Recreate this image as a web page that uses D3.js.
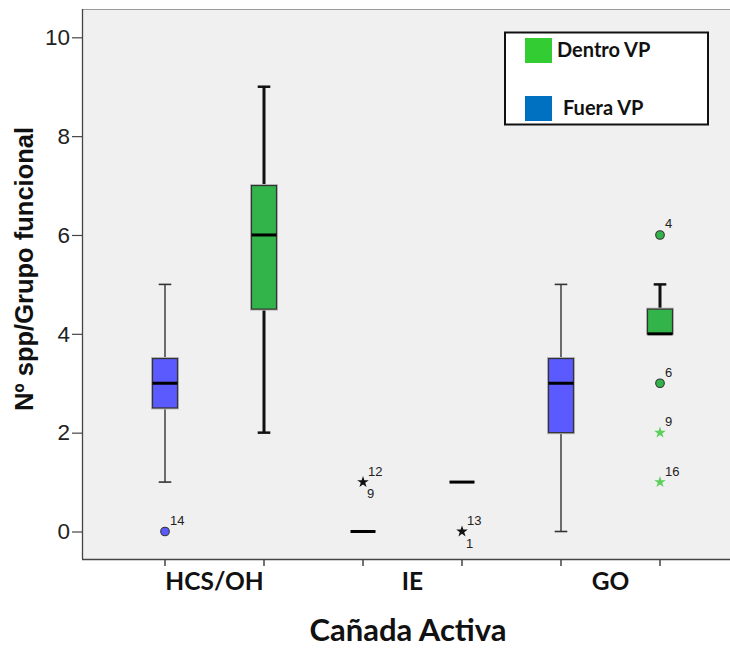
<!DOCTYPE html>
<html>
<head>
<meta charset="utf-8">
<script src="https://cdn.jsdelivr.net/npm/d3@7"></script>
<style>
  html, body { margin: 0; padding: 0; background: #ffffff; }
  svg { display: block; }
</style>
</head>
<body>
<svg id="chart" width="730" height="648"></svg>
<script>
// Categories along the x axis and the two series compared in each one
const categories = ["HCS/OH", "IE", "GO"];
const seriesNames = ["Fuera VP", "Dentro VP"];

// Box statistics, one value per category (lower whisker, Q1, median, Q3, upper whisker)
const fueraLow    = [1,   0, 0];
const fueraQ1     = [2.5, 0, 2];
const fueraMedian = [3,   0, 3];
const fueraQ3     = [3.5, 0, 3.5];
const fueraHigh   = [5,   0, 5];

const dentroLow    = [2,   1, 4];
const dentroQ1     = [4.5, 1, 4];
const dentroMedian = [6,   1, 4];
const dentroQ3     = [7,   1, 4.5];
const dentroHigh   = [9,   1, 5];

const yTicks = [0, 2, 4, 6, 8, 10];

// Outlying cases (circle = outlier, star = extreme), with their case numbers
const outCategory   = ["HCS/OH",   "IE",       "IE",        "GO",        "GO",        "GO",        "GO"];
const outSeries     = ["Fuera VP", "Fuera VP", "Dentro VP", "Dentro VP", "Dentro VP", "Dentro VP", "Dentro VP"];
const outValue      = [0,          1,          0,           6,           3,           2,           1];
const outKind       = ["circle",   "star",     "star",      "circle",    "circle",    "star",      "star"];
const outLabelAbove = ["14",       "12",       "13",        "4",         "6",         "9",         "16"];
const outLabelBelow = ["",         "9",        "1",         "",          "",          "",          ""];

// Styling
const boxFill   = { "Fuera VP": "#5a5aff", "Dentro VP": "#32b44a" };
const legendFill = { "Dentro VP": "#33cc33", "Fuera VP": "#0070c0" };
const whiskerStyle = {
  "Fuera VP":  { stroke: "#333333", width: 1.4 },
  "Dentro VP": { stroke: "#111111", width: 3 }
};

const svg = d3.select("#chart");

const plot = { left: 83, right: 731, top: 9, bottom: 559 };

const y = d3.scaleLinear().domain([0, 10]).range([531.5, 37.3]);
const x0 = d3.scaleBand().domain(categories).range([115.5, 709.5]).padding(0);
const x1 = d3.scaleBand().domain(seriesNames).range([0, x0.bandwidth()]).padding(0);
const cx = (c, s) => x0(c) + x1(s) + x1.bandwidth() / 2;

const boxW = 25;
const capW = 12.6;

// Plot background and frame
svg.append("rect")
  .attr("x", plot.left).attr("y", plot.top)
  .attr("width", plot.right - plot.left).attr("height", plot.bottom - plot.top)
  .attr("fill", "#f0f0f0");
svg.append("line")
  .attr("x1", plot.left).attr("x2", plot.right)
  .attr("y1", plot.top + 0.5).attr("y2", plot.top + 0.5)
  .attr("stroke", "#9a9a9a").attr("stroke-width", 1.2);
svg.append("line")
  .attr("x1", plot.left - 0.5).attr("x2", plot.left - 0.5)
  .attr("y1", plot.top).attr("y2", plot.bottom)
  .attr("stroke", "#444444").attr("stroke-width", 1.3);
svg.append("line")
  .attr("x1", plot.left - 1).attr("x2", plot.right)
  .attr("y1", plot.bottom + 0.5).attr("y2", plot.bottom + 0.5)
  .attr("stroke", "#444444").attr("stroke-width", 1.3);

// Y axis
const yAxis = svg.append("g")
  .attr("transform", `translate(${plot.left - 1},0)`)
  .call(d3.axisLeft(y).tickValues(yTicks).tickSize(10).tickPadding(2).tickFormat(d3.format("d")));
yAxis.select(".domain").remove();
yAxis.selectAll(".tick line").attr("stroke", "#444444").attr("stroke-width", 1.2);
yAxis.selectAll(".tick text")
  .attr("fill", "#222222")
  .style("font-family", "'Liberation Sans', Arial, sans-serif")
  .style("font-size", "22.5px");

// X axis: a tick under every box, category names centred under each pair
const tickPositions = [];
categories.forEach(c => seriesNames.forEach(s => tickPositions.push(cx(c, s))));
svg.append("g").selectAll("line")
  .data(tickPositions)
  .join("line")
  .attr("x1", d => d).attr("x2", d => d)
  .attr("y1", plot.bottom).attr("y2", plot.bottom + 7)
  .attr("stroke", "#444444").attr("stroke-width", 1.5);

const xAxis = svg.append("g")
  .attr("transform", `translate(0,${plot.bottom})`)
  .call(d3.axisBottom(x0).tickSize(0).tickPadding(14));
xAxis.select(".domain").remove();
xAxis.selectAll(".tick text")
  .attr("fill", "#111111")
  .style("font-family", "Lato, 'Open Sans', sans-serif")
  .style("font-weight", "bold")
  .style("font-size", "24.5px");

// Axis titles
svg.append("text")
  .attr("x", 408).attr("y", 641)
  .attr("text-anchor", "middle")
  .attr("fill", "#111111")
  .style("font-family", "Lato, 'Open Sans', sans-serif")
  .style("font-weight", "bold")
  .style("font-size", "31px")
  .text("Cañada Activa");

svg.append("text")
  .attr("transform", "translate(33,269) rotate(-90)")
  .attr("text-anchor", "middle")
  .attr("fill", "#111111")
  .style("font-family", "'Liberation Sans', Arial, sans-serif")
  .style("font-weight", "bold")
  .style("font-size", "25.5px")
  .text("Nº spp/Grupo funcional");

// Boxes
const stats = {
  "Fuera VP":  { low: fueraLow,  q1: fueraQ1,  med: fueraMedian,  q3: fueraQ3,  high: fueraHigh },
  "Dentro VP": { low: dentroLow, q1: dentroQ1, med: dentroMedian, q3: dentroQ3, high: dentroHigh }
};

const boxes = [];
seriesNames.forEach(s => categories.forEach((c, i) => {
  const st = stats[s];
  boxes.push({ cat: c, series: s, low: st.low[i], q1: st.q1[i], med: st.med[i], q3: st.q3[i], high: st.high[i] });
}));

const gBox = svg.append("g");
boxes.forEach(b => {
  const x = cx(b.cat, b.series);
  const ws = whiskerStyle[b.series];
  const g = gBox.append("g");
  // upper whisker
  if (b.high > b.q3) {
    g.append("line").attr("x1", x).attr("x2", x).attr("y1", y(b.q3)).attr("y2", y(b.high))
      .attr("stroke", ws.stroke).attr("stroke-width", ws.width);
    g.append("line").attr("x1", x - capW / 2).attr("x2", x + capW / 2).attr("y1", y(b.high)).attr("y2", y(b.high))
      .attr("stroke", ws.stroke).attr("stroke-width", Math.max(ws.width - 0.5, 1.6));
  }
  // lower whisker
  if (b.low < b.q1) {
    g.append("line").attr("x1", x).attr("x2", x).attr("y1", y(b.q1)).attr("y2", y(b.low))
      .attr("stroke", ws.stroke).attr("stroke-width", ws.width);
    g.append("line").attr("x1", x - capW / 2).attr("x2", x + capW / 2).attr("y1", y(b.low)).attr("y2", y(b.low))
      .attr("stroke", ws.stroke).attr("stroke-width", Math.max(ws.width - 0.5, 1.6));
  }
  // box
  if (b.q3 > b.q1) {
    g.append("rect")
      .attr("x", x - boxW / 2).attr("y", y(b.q3))
      .attr("width", boxW).attr("height", y(b.q1) - y(b.q3))
      .attr("fill", "none").attr("stroke", "#bbbbbb").attr("stroke-width", 3);
    g.append("rect")
      .attr("x", x - boxW / 2).attr("y", y(b.q3))
      .attr("width", boxW).attr("height", y(b.q1) - y(b.q3))
      .attr("fill", boxFill[b.series]).attr("stroke", "#333333").attr("stroke-width", 1.2);
  }
  // median
  g.append("line")
    .attr("x1", x - boxW / 2).attr("x2", x + boxW / 2)
    .attr("y1", y(b.med)).attr("y2", y(b.med))
    .attr("stroke", "#000000").attr("stroke-width", 3);
});

// Outlying cases
const starSymbol = d3.symbol().type(d3.symbolStar).size(42);
const gOut = svg.append("g");
outValue.forEach((v, i) => {
  const x = cx(outCategory[i], outSeries[i]);
  const yy = y(v);
  if (outKind[i] === "circle") {
    gOut.append("circle").attr("cx", x).attr("cy", yy).attr("r", 4.3)
      .attr("fill", boxFill[outSeries[i]]).attr("stroke", "#333333").attr("stroke-width", 1.1);
  } else {
    const col = outCategory[i] === "GO" ? "#5ccf5c" : "#111111";
    gOut.append("path").attr("d", starSymbol).attr("transform", `translate(${x},${yy})`)
      .attr("fill", col);
  }
  const labelStyle = sel => sel
    .attr("fill", "#222222")
    .style("font-family", "'Liberation Sans', Arial, sans-serif")
    .style("font-size", "13px");
  if (outLabelAbove[i]) {
    gOut.append("text").attr("x", x + 5).attr("y", yy - 6.5).text(outLabelAbove[i]).call(labelStyle);
  }
  if (outLabelBelow[i]) {
    gOut.append("text").attr("x", x + 4).attr("y", yy + 16).text(outLabelBelow[i]).call(labelStyle);
  }
});

// Legend
const legend = svg.append("g");
legend.append("rect")
  .attr("x", 505).attr("y", 32.5).attr("width", 203).attr("height", 92)
  .attr("fill", "#ffffff").attr("stroke", "#111111").attr("stroke-width", 2);
const legendRows = [
  { name: "Dentro VP", sy: 38, ty: 57, tx: 557 },
  { name: "Fuera VP",  sy: 96, ty: 115, tx: 563 }
];
legendRows.forEach(r => {
  legend.append("rect").attr("x", 525).attr("y", r.sy).attr("width", 27).attr("height", 25)
    .attr("fill", legendFill[r.name]);
  legend.append("text").attr("x", r.tx).attr("y", r.ty)
    .attr("fill", "#111111")
    .style("font-family", "Lato, 'Open Sans', sans-serif")
    .style("font-weight", "bold")
    .style("font-size", "20px")
    .text(r.name);
});
</script>
</body>
</html>
